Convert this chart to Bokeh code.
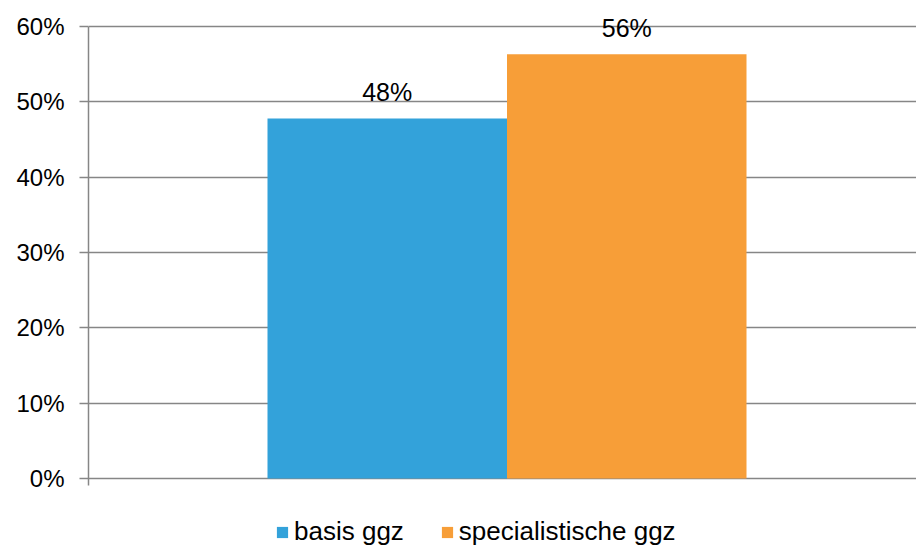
from bokeh.plotting import figure
from bokeh.models import (ColumnDataSource, Range1d, FixedTicker, NumeralTickFormatter,
                          LabelSet, Legend, LegendItem)
from bokeh.core.properties import value
from bokeh.embed import file_html
from bokeh.resources import INLINE

# ---- data ----
series = ["basis ggz", "specialistische ggz"]
values = [0.478, 0.563]
value_labels = ["48%", "56%"]
colors = ["#33A2DA", "#F79E38"]
y_ticks = [0.0, 0.1, 0.2, 0.3, 0.4, 0.5, 0.6]

FONT = "Liberation Sans"
GRID = "#868686"

src = ColumnDataSource(dict(
    x=list(range(len(series))),
    top=values,
    color=colors,
    name=series,
    txt=value_labels,
))

p = figure(width=916, height=547, output_backend="svg", toolbar_location=None,
           x_range=Range1d(-1.2474, 2.2098), y_range=Range1d(-0.0916, 0.6345),
           min_border_left=88, min_border_right=0, min_border_top=0, min_border_bottom=0)
p.outline_line_color = None
p.background_fill_color = "white"
p.border_fill_color = "white"
p.xaxis.visible = False

r = p.vbar(x="x", top="top", width=1.0, color="color", line_color=None, source=src)

# y axis
ya = p.yaxis[0]
ya.ticker = FixedTicker(ticks=y_ticks)
ya.bounds = (-0.0093, 0.6)
ya.formatter = NumeralTickFormatter(format="0%")
ya.axis_line_color = GRID
ya.axis_line_width = 1.5
ya.major_tick_line_color = GRID
ya.major_tick_line_width = 1.5
ya.major_tick_in = 0
ya.major_tick_out = 9
ya.minor_tick_line_color = None
ya.major_label_text_font = FONT
ya.major_label_text_font_size = "24px"
ya.major_label_text_color = "black"
ya.major_label_standoff = 15

p.xgrid.visible = False
p.ygrid.ticker = FixedTicker(ticks=y_ticks)
p.ygrid.grid_line_color = GRID
p.ygrid.grid_line_width = 1.5

labels = LabelSet(x="x", y="top", text="txt", source=src, y_offset=17,
                  text_align="center", text_baseline="alphabetic",
                  text_font=value(FONT), text_font_size="25px", text_color="black")
p.add_layout(labels)

items = [LegendItem(label=series[i], renderers=[r], index=i) for i in range(len(series))]
legend = Legend(items=items, orientation="horizontal", location=(187, 0),
                glyph_width=14, glyph_height=14, label_standoff=5, spacing=36,
                label_height=24, padding=0, margin=0, border_line_color=None,
                background_fill_alpha=0,
                label_text_font=FONT, label_text_font_size="26px", label_text_color="black")
p.add_layout(legend, "center")

open("out.html", "w").write(file_html(p, INLINE))
